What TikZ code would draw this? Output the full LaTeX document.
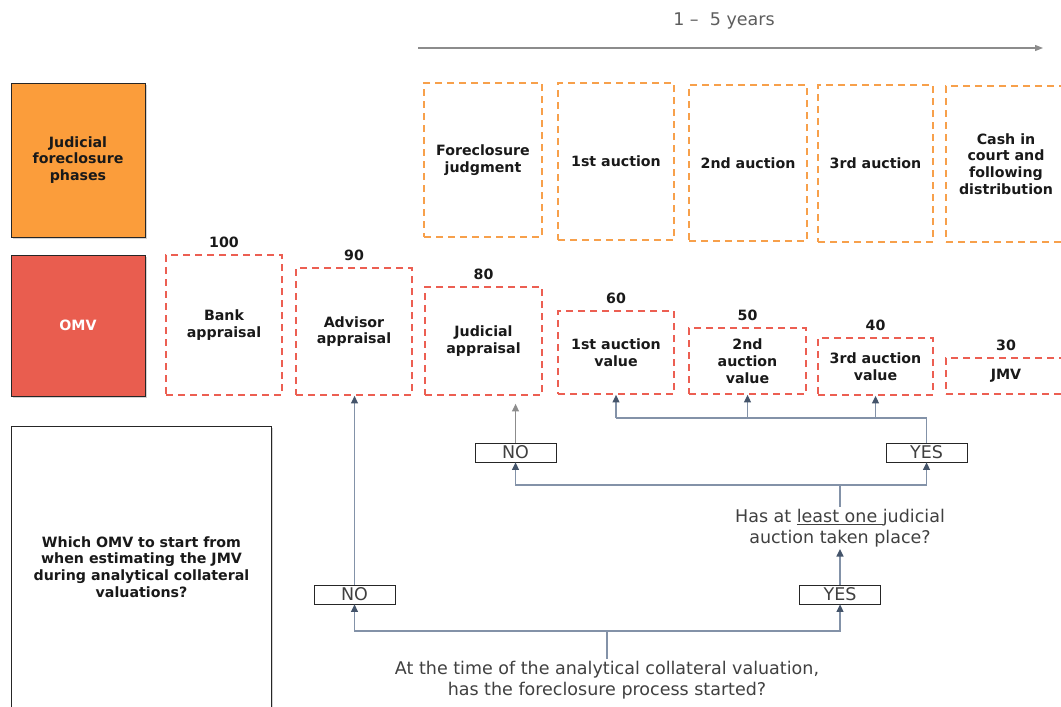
\documentclass[tikz,border=0pt]{standalone}
\usepackage{fontspec}
\setmainfont{DejaVu Sans}
\usetikzlibrary{arrows.meta,shadows}

\definecolor{phasefill}{HTML}{FB9D3B}
\definecolor{omvfill}{HTML}{E95D4F}
\definecolor{phasedash}{HTML}{F7A04B}
\definecolor{omvdash}{HTML}{EC5F52}
\definecolor{connline}{HTML}{8392A8}
\definecolor{conntip}{HTML}{44546A}
\definecolor{qtext}{HTML}{404040}
\definecolor{timegray}{HTML}{8C8C8C}
\definecolor{boxline}{HTML}{262626}

\begin{document}
\begin{tikzpicture}[x=1pt,y=-1pt,
  boldtxt/.style={font=\fontsize{14.2}{16.8}\selectfont\bfseries, align=center, text=black!90},
  regtxt/.style={font=\fontsize{17.5}{20.8}\selectfont, align=center, text=qtext},
  lead/.style={boldtxt, draw=boxline, line width=0.8pt,
    drop shadow={shadow xshift=2pt, shadow yshift=-2pt, opacity=0.35}},
  phasebox/.style={boldtxt, draw=phasedash, line width=1.8pt, dash pattern=on 7pt off 5pt, inner sep=0pt},
  omvbox/.style={boldtxt, draw=omvdash, line width=1.8pt, dash pattern=on 7pt off 5pt, inner sep=0pt},
  numlbl/.style={boldtxt, label distance=3pt},
  answer/.style={regtxt, draw=boxline, fill=white, line width=0.8pt, minimum width=81pt, minimum height=19pt, inner sep=0pt},
  conn/.style={draw=connline, line width=1.3pt},
  arr/.style={conn, -{Triangle[length=7.5pt, width=7pt, color=conntip]}},
  grayarr/.style={draw=timegray, line width=1.3pt, -{Triangle[length=7.5pt, width=7pt]}},
  timeline/.style={draw=timegray, line width=1.2pt, -{Triangle[length=8pt, width=6pt]}}
]
\useasboundingbox (0,0) rectangle (1061,707);
\clip (0,0) rectangle (1061,707);

% time span of the judicial phases
\node[regtxt, text=qtext!85] (tlbl) at (724,21) {1 –\ \ 5 years};
\coordinate (tl0) at (418,48);
\coordinate (tl1) at (1043,48);
\draw[timeline] (tl0) -- (tl1);

% row headers
\node[lead, fill=phasefill, minimum width=134pt, minimum height=154pt] (jfp) at (78,160) {Judicial\\foreclosure\\phases};
\node[lead, fill=omvfill, text=white, minimum width=134pt, minimum height=141pt] (omv) at (78,325.5) {OMV};
\node[lead, fill=white, minimum width=260pt, minimum height=300pt, anchor=north] (qbox) at (141,426) {};
\node[boldtxt] (qtxt) at (141.5,567) {Which OMV to start from\\when estimating the JMV\\during analytical collateral\\valuations?};

% judicial foreclosure phases
\node[phasebox, minimum width=118pt, minimum height=154pt] (fj) at (483,160) {Foreclosure\\judgment};
\node[phasebox, minimum width=116pt, minimum height=157pt] (a1) at (616,161.5) {1st auction};
\node[phasebox, minimum width=118pt, minimum height=156pt] (a2) at (748,163) {2nd auction};
\node[phasebox, minimum width=115pt, minimum height=157pt] (a3) at (875.5,163.5) {3rd auction};
\node[phasebox, minimum width=120pt, minimum height=156pt] (cash) at (1006,164) {Cash in\\court and\\following\\distribution};

% OMV values
\node[omvbox, minimum width=116pt, minimum height=140pt, label={[numlbl]above:100}] (b100) at (224,325) {Bank\\appraisal};
\node[omvbox, minimum width=116pt, minimum height=127pt, label={[numlbl]above:90}] (b90) at (354,331.5) {Advisor\\appraisal};
\node[omvbox, minimum width=117pt, minimum height=108pt, label={[numlbl]above:80}] (b80) at (483.5,341) {Judicial\\appraisal};
\node[omvbox, minimum width=116pt, minimum height=83pt, label={[numlbl]above:60}] (b60) at (616,352.5) {1st auction\\value};
\node[omvbox, minimum width=117pt, minimum height=66pt, label={[numlbl]above:50}] (b50) at (747.5,361) {2nd\\auction\\value};
\node[omvbox, minimum width=115pt, minimum height=57pt, label={[numlbl]above:40}] (b40) at (875.5,366.5) {3rd auction\\value};
\node[omvbox, minimum width=120pt, minimum height=36pt, label={[numlbl]above:30}] (b30) at (1006,376) {JMV};

% decision tree
\node[regtxt, inner sep=2pt] (q1) at (607,680) {At the time of the analytical collateral valuation,\\has the foreclosure process started?};
\node[regtxt, inner sep=2pt] (q2) at (840,528) {Has at \underline{least one\ }judicial\\auction taken place?};
\node[answer] (noA) at (354.5,594.5) {NO};
\node[answer] (yesA) at (840,594.5) {YES};
\node[answer] (noB) at (515.5,452.5) {NO};
\node[answer] (yesB) at (926.5,452.5) {YES};

\coordinate (j1) at (607,631);
\coordinate (j2) at (840,485);
\coordinate (j3) at (616,418);

\draw[conn] (q1.north) -- (j1);
\draw[arr] (j1) -| (noA);
\draw[arr] (j1) -| (yesA);
\draw[arr] (noA.north) -- (noA.north |- b90.south);
\draw[arr] (yesA.north) -- (q2.south);

\draw[conn] (q2.north) -- (j2);
\draw[arr] (j2) -| (noB);
\draw[arr] (j2) -| (yesB);
\draw[grayarr, shorten >=8pt] (noB.north) -- (noB.north |- b80.south);

\draw[conn] (yesB.north) |- (j3);
\draw[arr] (j3) -- (b60.south);
\draw[arr] (b50.south |- j3) -- (b50.south);
\draw[arr] (b40.south |- j3) -- (b40.south);
\end{tikzpicture}
\end{document}
